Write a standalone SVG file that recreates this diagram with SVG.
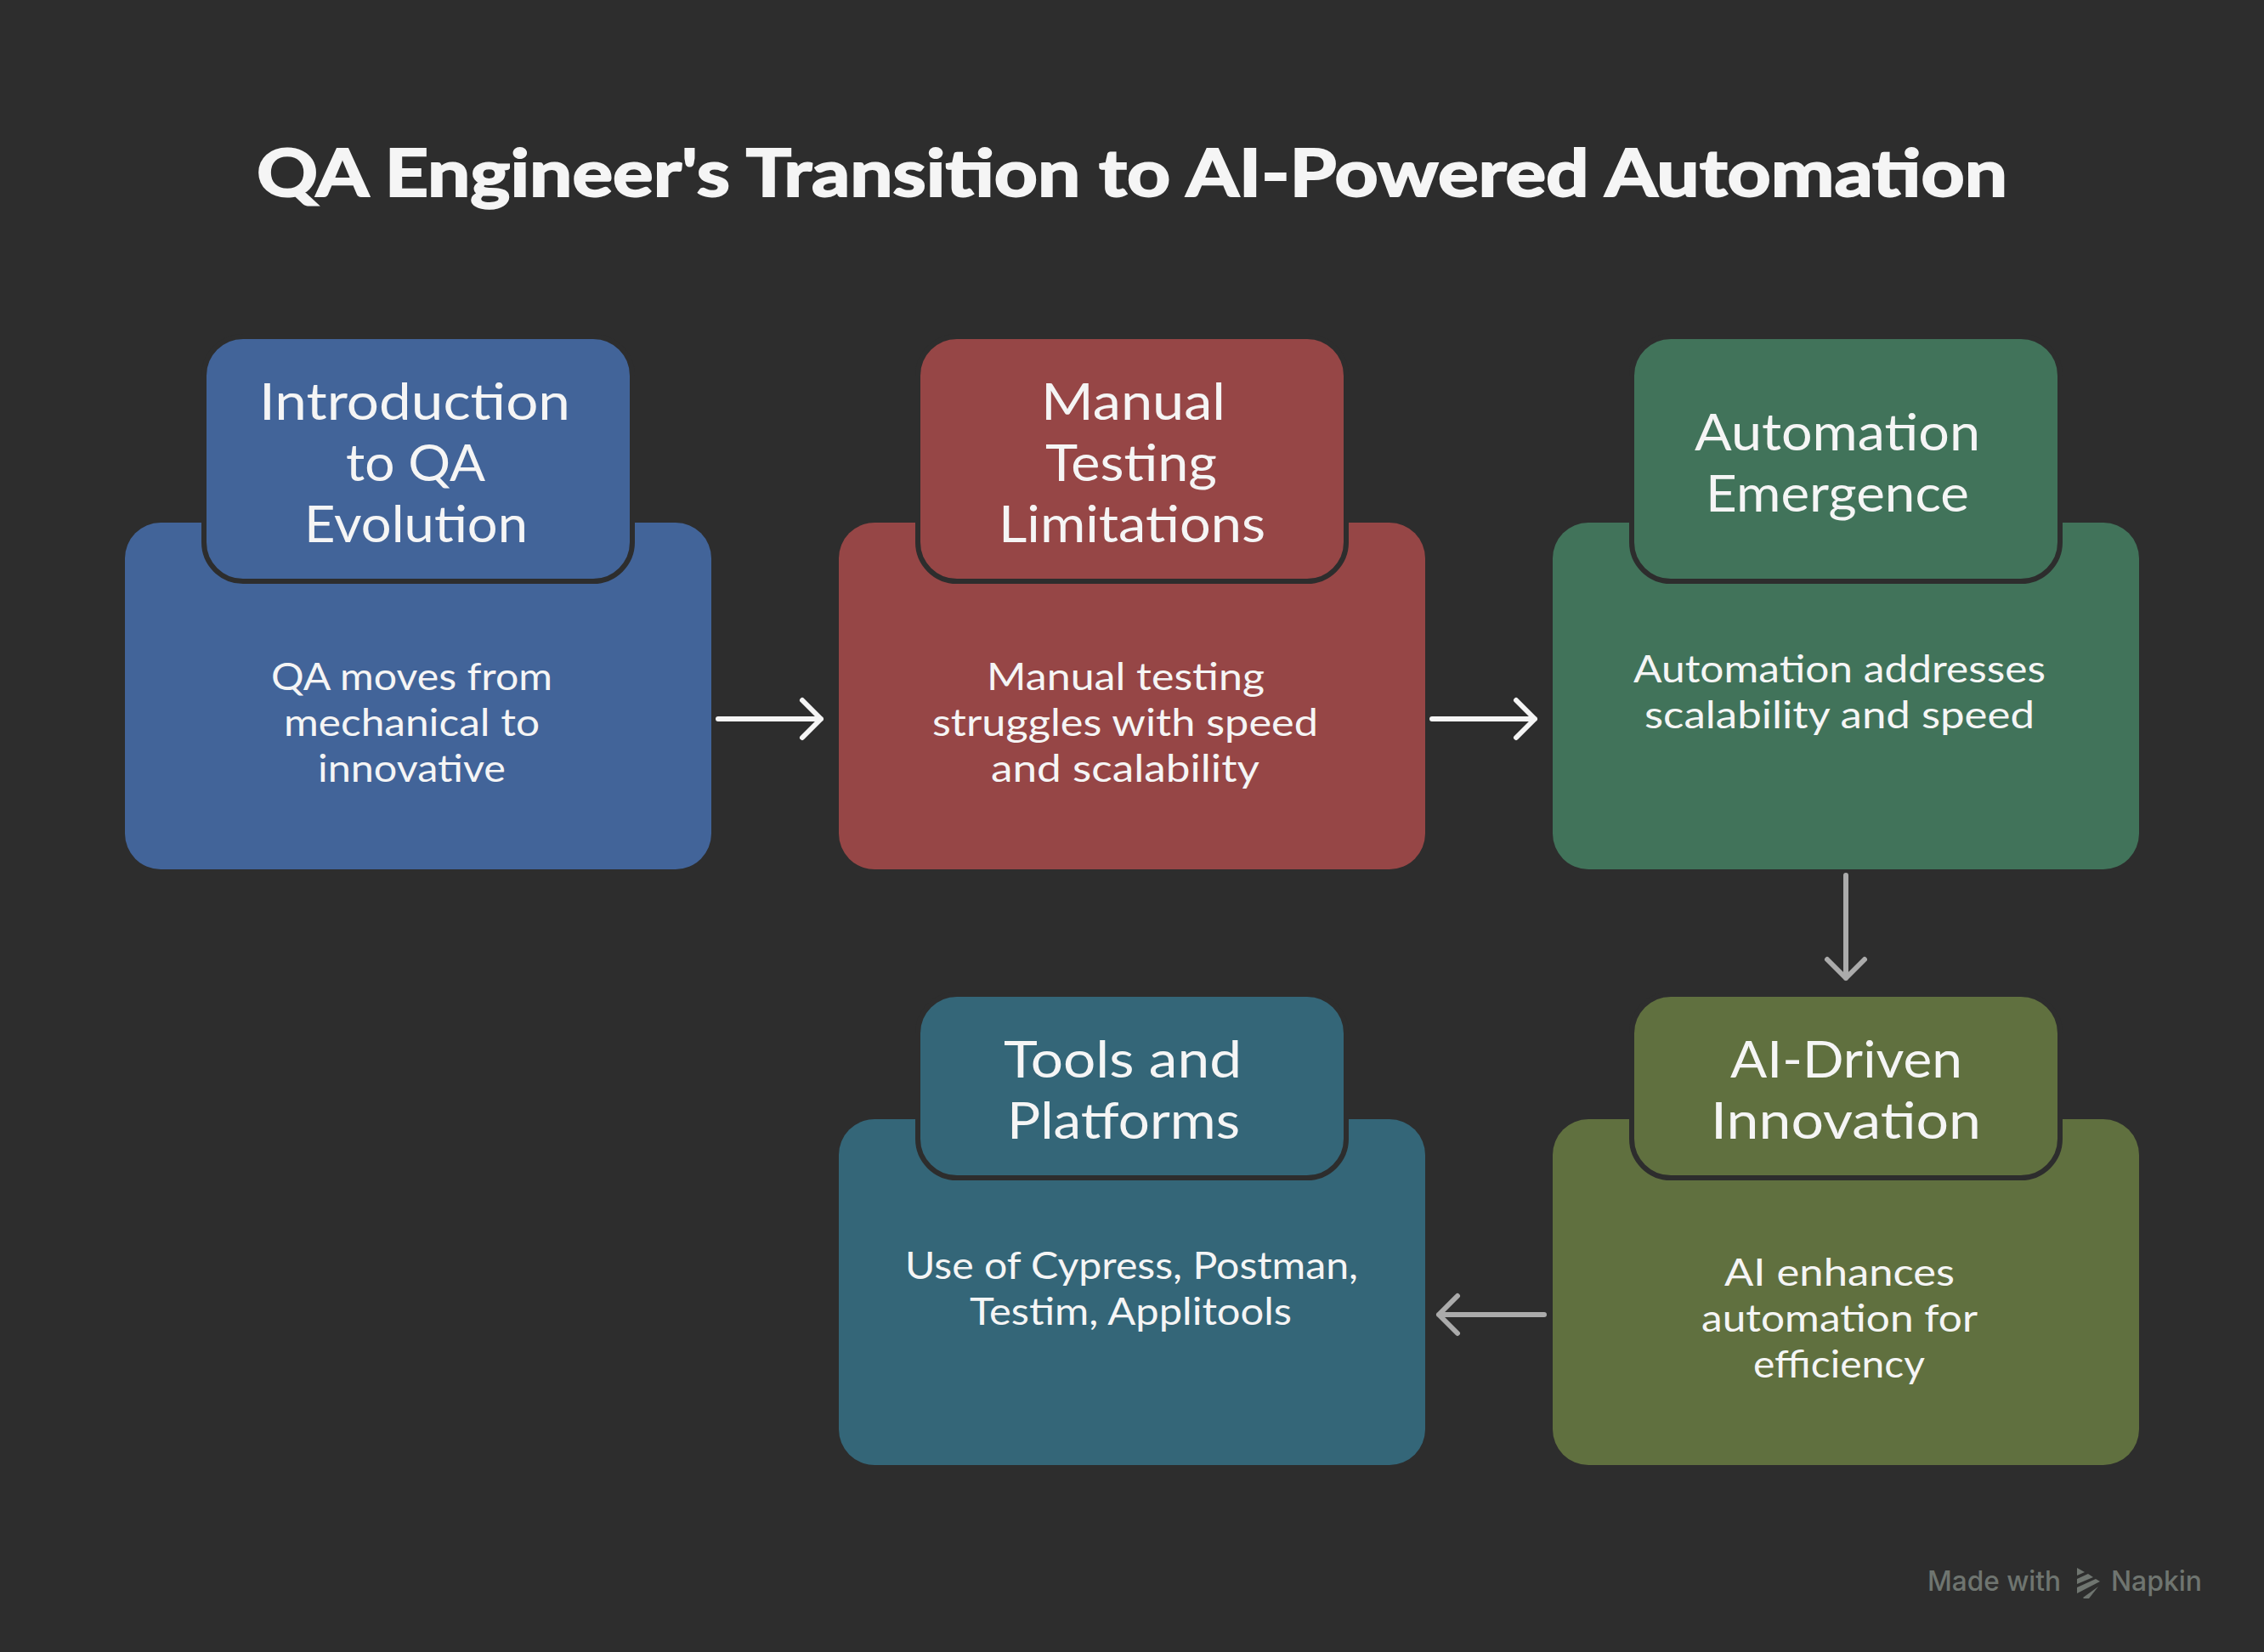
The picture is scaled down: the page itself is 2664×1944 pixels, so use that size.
<svg xmlns="http://www.w3.org/2000/svg" width="2664" height="1944" viewBox="0 0 2664 1944">
<defs>
<style>
text{font-family:"Lato","Open Sans",sans-serif;fill:#f5f5f5}
.title{font-size:76px;font-weight:700;stroke:#f5f5f5;stroke-width:2}
.h{font-size:60px}
.b{font-size:44px}
.hd{stroke:#2d2d2d;stroke-width:6}
.cw{fill:none;stroke:#f5f5f5;stroke-width:6;stroke-linecap:round;stroke-linejoin:round}
.cg{fill:none;stroke:#ababab;stroke-width:6;stroke-linecap:round;stroke-linejoin:round}
.wm{font-family:"Inter","Roboto",sans-serif;font-size:32px;font-weight:500;fill:#6f7570}
</style>
</defs>
<rect width="2664" height="1944" fill="#2d2d2d"/>
<text id="title" class="title" x="302" y="231" textLength="2060" lengthAdjust="spacingAndGlyphs">QA Engineer's Transition to AI-Powered Automation</text>
<g id="connectors">
<path class="cw" d="M845 846H966M944 824L966 846L944 868"/>
<path class="cw" d="M1685 846H1806M1784 824L1806 846L1784 868"/>
<path class="cg" d="M2172 1030V1151M2150 1129L2172 1151L2194 1129"/>
<path class="cg" d="M1817 1547H1693M1715 1525L1693 1547L1715 1569"/>
</g>
<g id="node-intro">
<rect x="147" y="615" width="690" height="408" rx="42" fill="#426499"/>
<rect class="hd" x="240" y="396" width="504" height="288" rx="46" fill="#426499"/>
<text class="h" x="305" y="494" textLength="366" lengthAdjust="spacingAndGlyphs">Introduction</text>
<text class="h" x="407" y="566" textLength="164" lengthAdjust="spacingAndGlyphs">to QA</text>
<text class="h" x="358" y="638" textLength="263" lengthAdjust="spacingAndGlyphs">Evolution</text>
<text class="b" x="319" y="812" textLength="331" lengthAdjust="spacingAndGlyphs">QA moves from</text>
<text class="b" x="334" y="866" textLength="301" lengthAdjust="spacingAndGlyphs">mechanical to</text>
<text class="b" x="374" y="920" textLength="221" lengthAdjust="spacingAndGlyphs">innovative</text>
</g>
<g id="node-manual">
<rect x="987" y="615" width="690" height="408" rx="42" fill="#964646"/>
<rect class="hd" x="1080" y="396" width="504" height="288" rx="46" fill="#964646"/>
<text class="h" x="1225" y="494" textLength="217" lengthAdjust="spacingAndGlyphs">Manual</text>
<text class="h" x="1230" y="566" textLength="202" lengthAdjust="spacingAndGlyphs">Testing</text>
<text class="h" x="1175" y="638" textLength="314" lengthAdjust="spacingAndGlyphs">Limitations</text>
<text class="b" x="1161" y="812" textLength="327" lengthAdjust="spacingAndGlyphs">Manual testing</text>
<text class="b" x="1097" y="866" textLength="454" lengthAdjust="spacingAndGlyphs">struggles with speed</text>
<text class="b" x="1166" y="920" textLength="316" lengthAdjust="spacingAndGlyphs">and scalability</text>
</g>
<g id="node-automation">
<rect x="1827" y="615" width="690" height="408" rx="42" fill="#41735a"/>
<rect class="hd" x="1920" y="396" width="504" height="288" rx="46" fill="#41735a"/>
<text class="h" x="1994" y="530" textLength="336" lengthAdjust="spacingAndGlyphs">Automation</text>
<text class="h" x="2007" y="602" textLength="310" lengthAdjust="spacingAndGlyphs">Emergence</text>
<text class="b" x="1922" y="803" textLength="485" lengthAdjust="spacingAndGlyphs">Automation addresses</text>
<text class="b" x="1935" y="857" textLength="459" lengthAdjust="spacingAndGlyphs">scalability and speed</text>
</g>
<g id="node-ai">
<rect x="1827" y="1317" width="690" height="407" rx="42" fill="#60703f"/>
<rect class="hd" x="1920" y="1170" width="504" height="216" rx="46" fill="#60703f"/>
<text class="h" x="2036" y="1268" textLength="273" lengthAdjust="spacingAndGlyphs">AI-Driven</text>
<text class="h" x="2013" y="1340" textLength="318" lengthAdjust="spacingAndGlyphs">Innovation</text>
<text class="b" x="2029" y="1513" textLength="271" lengthAdjust="spacingAndGlyphs">AI enhances</text>
<text class="b" x="2002" y="1567" textLength="325" lengthAdjust="spacingAndGlyphs">automation for</text>
<text class="b" x="2063" y="1621" textLength="202" lengthAdjust="spacingAndGlyphs">efficiency</text>
</g>
<g id="node-tools">
<rect x="987" y="1317" width="690" height="407" rx="42" fill="#346678"/>
<rect class="hd" x="1080" y="1170" width="504" height="216" rx="46" fill="#346678"/>
<text class="h" x="1181" y="1268" textLength="280" lengthAdjust="spacingAndGlyphs">Tools and</text>
<text class="h" x="1185" y="1340" textLength="274" lengthAdjust="spacingAndGlyphs">Platforms</text>
<text class="b" x="1065" y="1505" textLength="533" lengthAdjust="spacingAndGlyphs">Use of Cypress, Postman,</text>
<text class="b" x="1141" y="1559" textLength="379" lengthAdjust="spacingAndGlyphs">Testim, Applitools</text>
</g>
<g id="watermark">
<text class="wm" x="2268" y="1872" textLength="157" lengthAdjust="spacingAndGlyphs">Made with</text>
<polygon fill="#6f7570" points="2444,1845 2453,1850 2444,1854"/>
<polygon fill="#6f7570" points="2444,1858 2457,1852 2463,1856 2444,1864"/>
<polygon fill="#6f7570" points="2444,1868 2466,1858 2471,1861 2444,1875"/>
<polygon fill="#6f7570" points="2451,1880 2469,1867 2458,1881 2452,1881"/>
<text class="wm" x="2484" y="1872" textLength="107" lengthAdjust="spacingAndGlyphs">Napkin</text>
</g>
</svg>
